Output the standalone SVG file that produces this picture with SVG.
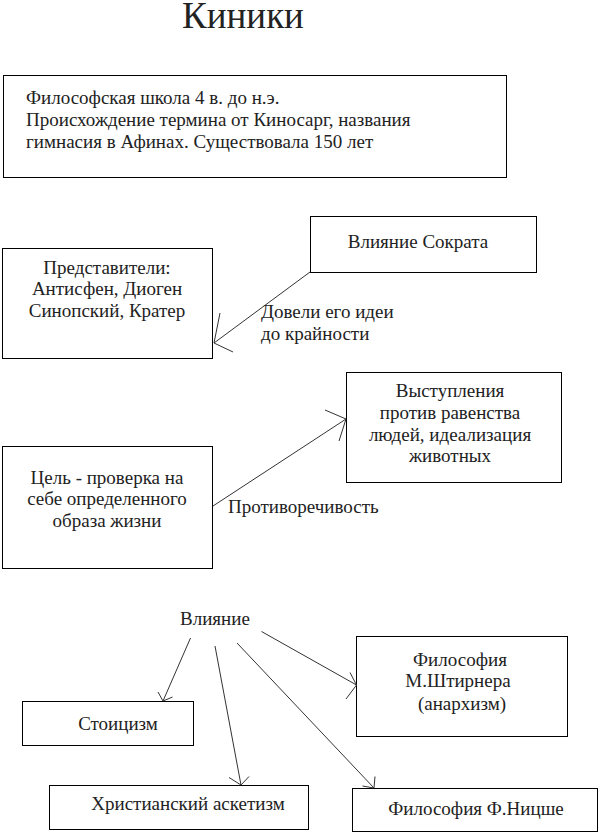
<svg xmlns="http://www.w3.org/2000/svg" width="599" height="834" viewBox="0 0 599 834">
<style>
.box{fill:#fff;stroke:#000;stroke-width:1}
text{font-family:"Liberation Serif","Times New Roman",serif;font-size:19px;fill:#222}
.c{text-anchor:middle}
.ln{fill:none;stroke:#333;stroke-width:1}
</style>
<rect width="599" height="834" fill="#fff"/>
<text x="243" y="28" class="c" style="font-size:37px">Киники</text>
<g id="n1"><rect class="box" x="3.5" y="75.5" width="503" height="102"/>
<text x="26" y="104">Философская школа 4 в. до н.э.</text>
<text x="26" y="126">Происхождение термина от Киносарг, названия</text>
<text x="26" y="148">гимнасия в Афинах. Существовала 150 лет</text></g>
<g id="n2"><rect class="box" x="310.5" y="216.5" width="226" height="56"/>
<text x="418" y="248" class="c">Влияние Сократа</text></g>
<g id="n3"><rect class="box" x="2.5" y="248.5" width="210" height="110"/>
<text x="107" y="274" class="c">Представители:</text>
<text x="107" y="295" class="c">Антисфен, Диоген</text>
<text x="107" y="317" class="c">Синопский, Кратер</text></g>
<g id="n4"><rect class="box" x="346.5" y="372.5" width="215" height="110"/>
<text x="450" y="397" class="c">Выступления</text>
<text x="450" y="419" class="c">против равенства</text>
<text x="450" y="441" class="c">людей, идеализация</text>
<text x="450" y="462" class="c">животных</text></g>
<g id="n5"><rect class="box" x="2.5" y="446.5" width="210" height="122"/>
<text x="107" y="484" class="c">Цель - проверка на</text>
<text x="107" y="505" class="c">себе определенного</text>
<text x="107" y="527" class="c">образа жизни</text></g>
<text x="180" y="625" id="n6">Влияние</text>
<g id="n7"><rect class="box" x="22.5" y="701.5" width="171" height="44"/>
<text x="118" y="730" class="c">Стоицизм</text></g>
<g id="n8"><rect class="box" x="49.5" y="785.5" width="259" height="44"/>
<text x="188" y="810" class="c">Христианский аскетизм</text></g>
<g id="n9"><rect class="box" x="356.5" y="636.5" width="211" height="100"/>
<text x="460" y="666" class="c">Философия</text>
<text x="458" y="687" class="c">М.Штирнера</text>
<text x="462" y="710" class="c">(анархизм)</text></g>
<g id="n10"><rect class="box" x="352.5" y="788.5" width="245" height="43"/>
<text x="476" y="815" class="c">Философия Ф.Ницше</text></g>
<g id="connectors">
<path class="ln" d="M310,272 L214,343 M220,313 L214,343 L233,352"/>
<text x="261" y="318">Довели его идеи</text>
<text x="261" y="340">до крайности</text>
<path class="ln" d="M213,506 L346,419 M325,410 L346,419 L339,441"/>
<text x="228" y="513">Противоречивость</text>
<path class="ln" d="M190.5,638 L163,701 M158,692 L163,701 L172.5,697"/>
<path class="ln" d="M215,646 L241,785 M229,777.5 L241,785 L249,776.5"/>
<path class="ln" d="M237,643 L374,788 M362.5,786 L374,788 L375,776.5"/>
<path class="ln" d="M261.5,631.5 L356.5,685 M350,672.5 L356.5,685 L346,699"/>
</g>
</svg>
